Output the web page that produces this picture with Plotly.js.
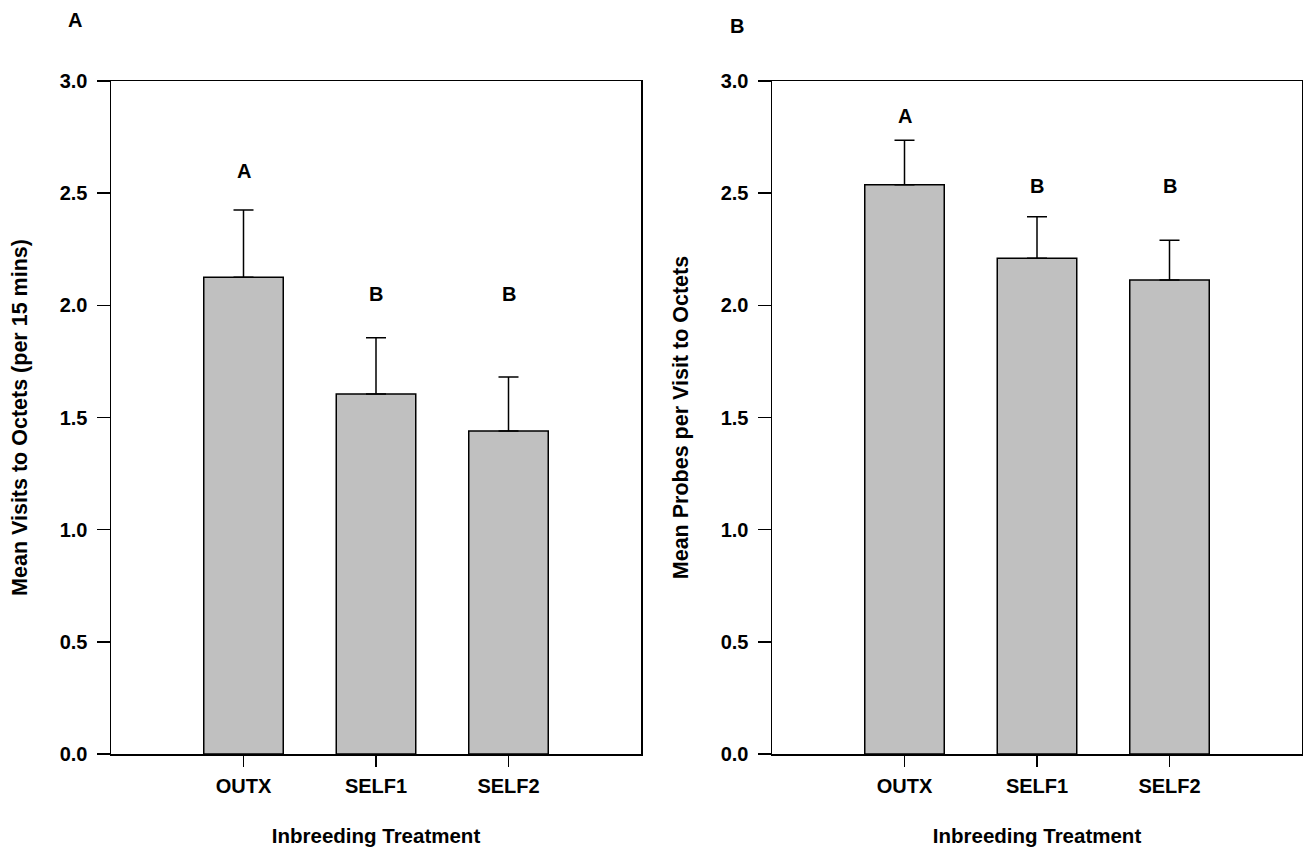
<!DOCTYPE html>
<html>
<head>
<meta charset="utf-8">
<script src="https://cdn.plot.ly/plotly-3.0.1.min.js"></script>
<style>html,body{margin:0;padding:0;background:#fff;}#chart{width:1303px;height:849px;}</style>
</head>
<body>
<div id="chart"></div>
<script>
var categories = ["OUTX", "SELF1", "SELF2"];
var visitsMean = [2.125, 1.605, 1.44];
var visitsErr = [0.30, 0.25, 0.24];
var visitsLetters = ["A", "B", "B"];
var visitsLetterY = [2.6, 2.05, 2.05];
var probesMean = [2.538, 2.21, 2.113];
var probesErr = [0.198, 0.185, 0.177];
var probesLetters = ["A", "B", "B"];
var probesLetterY = [2.845, 2.53, 2.53];
var yTicks = [0, 0.5, 1.0, 1.5, 2.0, 2.5, 3.0];
var yTickText = ["0.0", "0.5", "1.0", "1.5", "2.0", "2.5", "3.0"];

var FONT = "Liberation Sans, Arial, sans-serif";
var FS = 20;

function bold(s) { return "<b>" + s + "</b>"; }

function barTrace(y, err, xa, ya) {
  return {
    type: "bar", x: categories, y: y, xaxis: xa, yaxis: ya, width: 0.6,
    marker: {color: "#c0c0c0", line: {color: "#000", width: 1.5}},
    error_y: {type: "data", array: err, symmetric: false, arrayminus: [0,0,0], color: "#000", thickness: 1.5, width: 10},
    showlegend: false, hoverinfo: "none"
  };
}

var data = [
  barTrace(visitsMean, visitsErr, "x", "y"),
  barTrace(probesMean, probesErr, "x2", "y2")
];

var annotations = [];
categories.forEach(function (c, i) {
  annotations.push({xref: "x", yref: "y", x: c, y: visitsLetterY[i], text: bold(visitsLetters[i]), showarrow: false, yanchor: "middle", font: {family: FONT, size: 20, color: "#000"}});
  annotations.push({xref: "x2", yref: "y2", x: c, y: probesLetterY[i], text: bold(probesLetters[i]), showarrow: false, yanchor: "middle", font: {family: FONT, size: 20, color: "#000"}});
});
annotations.push({xref: "paper", yref: "paper", x: 75/1303, y: 1 - 20/849, text: bold("A"), showarrow: false, xanchor: "center", yanchor: "middle", font: {family: FONT, size: 20, color: "#000"}});
annotations.push({xref: "paper", yref: "paper", x: 737/1303, y: 1 - 26/849, text: bold("B"), showarrow: false, xanchor: "center", yanchor: "middle", font: {family: FONT, size: 20, color: "#000"}});

function xAxis(domain, anchor) {
  return {
    domain: domain, anchor: anchor, type: "category", range: [-1, 3],
    tickvals: categories, ticktext: categories.map(bold),
    showline: true, mirror: true, linecolor: "#000", linewidth: 1.5,
    ticks: "outside", ticklen: 11, tickwidth: 1.5, tickcolor: "#000",
    ticklabelstandoff: 2,
    showgrid: false, zeroline: false, fixedrange: true,
    tickfont: {family: FONT, size: FS, color: "#000"},
    title: {text: bold("Inbreeding Treatment"), font: {family: FONT, size: 20.5, color: "#000"}, standoff: 33}
  };
}
function yAxis(domain, anchor, title) {
  return {
    domain: domain, anchor: anchor, range: [0, 3],
    tickvals: yTicks, ticktext: yTickText.map(bold),
    showline: true, mirror: true, linecolor: "#000", linewidth: 1.5,
    ticks: "outside", ticklen: 13, tickwidth: 1.5, tickcolor: "#000",
    ticklabelstandoff: 5,
    showgrid: false, zeroline: false, fixedrange: true,
    tickfont: {family: FONT, size: FS, color: "#000"},
    title: {text: bold(title), font: {family: FONT, size: 21.5, color: "#000"}, standoff: 26}
  };
}

var yDom = [(849 - 754) / 849, (849 - 81) / 849];
var layout = {
  width: 1303, height: 849,
  margin: {l: 0, r: 0, t: 0, b: 0},
  paper_bgcolor: "#fff", plot_bgcolor: "#fff",
  xaxis: xAxis([111 / 1303, 641 / 1303], "y"),
  yaxis: yAxis(yDom, "x", "Mean Visits to Octets (per 15 mins)"),
  xaxis2: xAxis([772 / 1303, 1302 / 1303], "y2"),
  yaxis2: yAxis(yDom, "x2", "Mean Probes per Visit to Octets"),
  annotations: annotations,
  bargap: 0.4
};

Plotly.newPlot("chart", data, layout, {displayModeBar: false, staticPlot: true});
</script>
</body>
</html>
